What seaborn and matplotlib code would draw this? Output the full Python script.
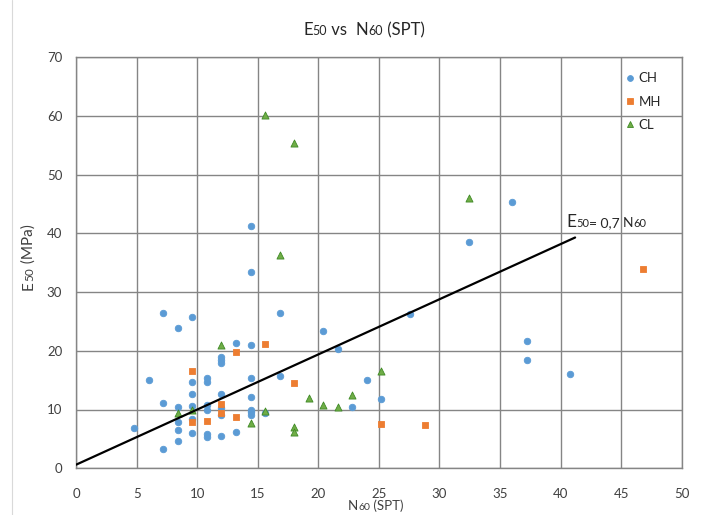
import matplotlib
matplotlib.use("Agg")
import matplotlib.pyplot as plt
from matplotlib.lines import Line2D
import seaborn as sns
import pandas as pd

# N60 (SPT) and E50 (MPa) for each soil class
ch_n60 = [4.8, 6.0, 7.2, 7.2, 7.2, 8.4, 8.4, 8.4, 8.4, 8.4,
          9.6, 9.6, 9.6, 9.6, 9.6, 9.6, 10.8, 10.8, 10.8, 10.8, 10.8, 10.8,
          12.0, 12.0, 12.0, 12.0, 12.0, 12.0, 12.0, 13.2, 13.2,
          14.4, 14.4, 14.4, 14.4, 14.4, 14.4, 14.4, 14.4, 15.6, 16.8, 16.8,
          20.4, 21.6, 22.8, 24.0, 25.2, 27.6, 32.4, 36.0, 37.2, 37.2, 40.8]
ch_e50 = [6.9, 15.0, 26.5, 11.1, 3.2, 23.9, 10.5, 7.9, 6.5, 4.7,
          25.8, 14.6, 12.6, 10.6, 8.3, 6.0, 15.4, 14.7, 10.8, 10.0, 5.8, 5.4,
          19.0, 18.5, 18.0, 12.7, 10.2, 9.0, 5.5, 21.3, 6.1,
          41.3, 33.4, 21.0, 15.4, 12.1, 9.9, 9.5, 9.1, 9.4, 26.5, 15.7,
          23.3, 20.3, 10.5, 15.0, 11.8, 26.2, 38.5, 45.4, 21.7, 18.4, 16.1]

mh_n60 = [9.6, 9.6, 10.8, 12.0, 12.0, 13.2, 13.2, 15.6, 18.0, 25.2, 28.8, 46.8]
mh_e50 = [16.6, 7.9, 8.1, 10.9, 9.4, 19.8, 8.8, 21.2, 14.5, 7.5, 7.4, 34.0]

cl_n60 = [8.4, 9.6, 12.0, 14.4, 15.6, 15.6, 16.8, 18.0, 18.0, 18.0,
          19.2, 20.4, 21.6, 22.8, 25.2, 32.4]
cl_e50 = [9.4, 9.9, 21.0, 7.75, 60.1, 9.8, 36.4, 55.4, 7.1, 6.1,
          11.9, 10.7, 10.4, 12.4, 16.5, 46.1]

# Correlation line E50 = 0,7 N60 (end points)
line_n60 = [0.0, 41.2]
line_e50 = [0.6, 39.3]

x_ticks = [0, 5, 10, 15, 20, 25, 30, 35, 40, 45, 50]
y_ticks = [0, 10, 20, 30, 40, 50, 60, 70]

soils = ["CH", "MH", "CL"]
colors = {"CH": "#5B9BD5", "MH": "#ED7D31", "CL": "#70AD47"}
markers = {"CH": "o", "MH": "s", "CL": "^"}
sizes = {"CH": 22, "MH": 16, "CL": 26}
edges = {"CH": "#5B9BD5", "MH": "#ED7D31", "CL": "#3F8A26"}

frames = {
    "CH": pd.DataFrame({"N60": ch_n60, "E50": ch_e50}),
    "MH": pd.DataFrame({"N60": mh_n60, "E50": mh_e50}),
    "CL": pd.DataFrame({"N60": cl_n60, "E50": cl_e50}),
}
line_df = pd.DataFrame({"N60": line_n60, "E50": line_e50})

sns.set_style("white")
plt.rcParams["font.family"] = ["Lato", "DejaVu Sans"]

W, H = 705, 515
fig = plt.figure(figsize=(W / 100, H / 100), dpi=100)
x0, x1, y0, y1 = 76.1, 681.7, 468.2, 57.3
ax = fig.add_axes([x0 / W, (H - y0) / H, (x1 - x0) / W, (y0 - y1) / H])

for soil in soils:
    sns.scatterplot(data=frames[soil], x="N60", y="E50", ax=ax,
                    marker=markers[soil], s=sizes[soil], color=colors[soil],
                    edgecolor=edges[soil], linewidth=0.6, zorder=3)

sns.lineplot(data=line_df, x="N60", y="E50", ax=ax, color="black",
             linewidth=1.6, zorder=4)

ax.set_xlim(0, 50)
ax.set_ylim(0, 70)
ax.set_xticks(x_ticks)
ax.set_yticks(y_ticks)
ax.set_xlabel("")
ax.set_ylabel("")
grid_c = "#858585"
ax.grid(True, color=grid_c, linewidth=1.0)
ax.set_axisbelow(True)
for sp in ax.spines.values():
    sp.set_color(grid_c)
    sp.set_linewidth(1.0)
ax.tick_params(axis="x", length=0, pad=14, labelsize=9.5, colors="#404040")
ax.tick_params(axis="y", length=3, width=0.9, pad=7, labelsize=9.5,
               colors="#404040")
ax.tick_params(axis="both", color=grid_c)

# Legend
handles = [Line2D([], [], linestyle="", marker=markers[s], markersize=4.2,
                  markerfacecolor=colors[s], markeredgecolor=edges[s],
                  markeredgewidth=0.6) for s in soils]
ax.legend(handles, soils, loc="upper left",
          bbox_to_anchor=((625.6 - x0) / (x1 - x0), (y0 - 72.5) / (y0 - y1)),
          frameon=False, fontsize=9.5, handlelength=0.7, handletextpad=0.3,
          labelspacing=0.84, borderpad=0, borderaxespad=0)

# Text with small digits on the baseline
renderer = fig.canvas.get_renderer()


def runs_text(x_px, y_px, runs, rotation=0, align="center", color="#262626"):
    texts, lengths = [], []
    for s, size in runs:
        t = fig.text(0, 0, s, fontsize=size, rotation=rotation,
                     rotation_mode="anchor", ha="left", va="baseline",
                     transform=None, color=color)
        bb = t.get_window_extent(renderer)
        lengths.append(bb.width if rotation == 0 else bb.height)
        texts.append(t)
    pos = -sum(lengths) / 2 if align == "center" else 0
    for t, L in zip(texts, lengths):
        if rotation == 0:
            t.set_position((x_px + pos, y_px))
        else:
            t.set_position((x_px, y_px + pos))
        pos += L


runs_text(364, 480, [("E", 12), ("50", 9), (" vs  ", 12), ("N", 12),
                     ("60", 9), (" (SPT)", 12)])
runs_text(376, 5, [("N", 9.5), ("60", 7.5), (" (SPT)", 9.5)],
          color="#404040")
runs_text(33, 258, [("E", 11), ("50", 8.5), (" (MPa)", 11)], rotation=90,
          color="#404040")
runs_text(566, 288, [("E", 12.5), ("50", 8), ("= 0,7 ", 10), ("N", 10),
                     ("60", 8)], align="left")

# Chart area border
fig.add_artist(Line2D([12 / W, 12 / W], [0, 1], color="#d9d9d9",
                      linewidth=0.8, transform=fig.transFigure))

fig.savefig("out.png", dpi=100)
